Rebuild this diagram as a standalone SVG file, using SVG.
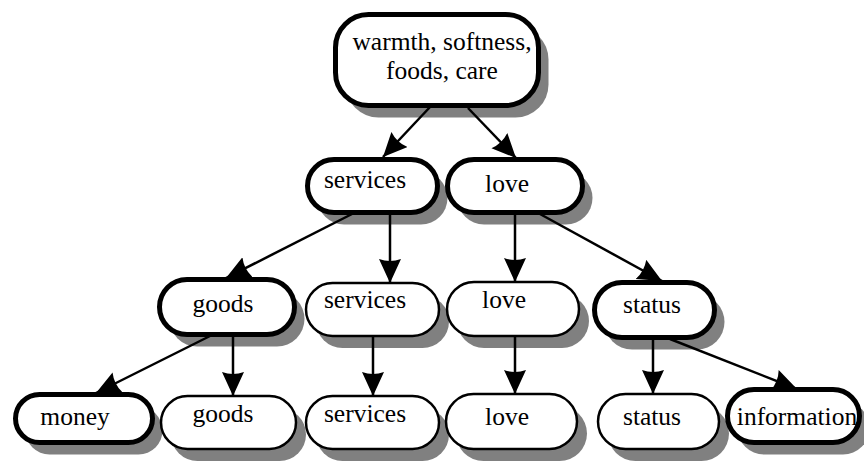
<svg xmlns="http://www.w3.org/2000/svg" width="864" height="463" viewBox="0 0 864 463">
<style>
.sh{fill:#808080;stroke:none}
.thick{fill:#fff;stroke:#000;stroke-width:5}
.thin{fill:#fff;stroke:#000;stroke-width:2.5}
text{font-family:"Liberation Serif","Times New Roman",serif;font-size:25.5px;fill:#000;text-anchor:middle}
.c line{stroke:#000;stroke-width:2.5;marker-end:url(#ah)}
</style>
<defs>
<marker id="ah" markerUnits="userSpaceOnUse" markerWidth="26" markerHeight="24" refX="24" refY="11" orient="auto">
<path d="M0,0 L24,11 L0,22 Q4,11 0,0 Z" fill="#000"/>
</marker>
</defs>
<rect width="864" height="463" fill="#fff"/>
<g id="n-top">
<rect class="sh" x="345.5" y="26.5" width="203" height="91" rx="33"/>
<rect class="thick" x="335.5" y="14.5" width="203" height="91" rx="33"/>
<text x="442" y="50">warmth, softness,</text>
<text x="442" y="79">foods, care</text>
</g>
<g id="n-services1">
<rect class="sh" x="317.5" y="171.5" width="130" height="53" rx="26.5"/>
<rect class="thick" x="307.5" y="159.5" width="130" height="53" rx="26.5"/>
<text x="365" y="188">services</text>
</g>
<g id="n-love1">
<rect class="sh" x="457.5" y="171.5" width="135" height="53" rx="26.5"/>
<rect class="thick" x="447.5" y="159.5" width="135" height="53" rx="26.5"/>
<text x="507" y="192">love</text>
</g>
<g id="n-goods2">
<rect class="sh" x="169.5" y="291.5" width="135" height="55" rx="27.5"/>
<rect class="thick" x="159.5" y="279.5" width="135" height="55" rx="27.5"/>
<text x="223" y="312">goods</text>
</g>
<g id="n-services2">
<rect class="sh" x="316" y="295" width="133" height="53" rx="26.5"/>
<rect class="thin" x="306" y="283" width="133" height="53" rx="26.5"/>
<text x="365" y="308">services</text>
</g>
<g id="n-love2">
<rect class="sh" x="457" y="294" width="132" height="54" rx="27"/>
<rect class="thin" x="447" y="282" width="132" height="54" rx="27"/>
<text x="504" y="308">love</text>
</g>
<g id="n-status2">
<rect class="sh" x="604.5" y="294.5" width="120" height="55" rx="27.5"/>
<rect class="thick" x="594.5" y="282.5" width="120" height="55" rx="27.5"/>
<text x="652" y="313">status</text>
</g>
<g id="n-money">
<rect class="sh" x="25.5" y="406.5" width="137" height="48" rx="24"/>
<rect class="thick" x="15.5" y="394.5" width="137" height="48" rx="24"/>
<text x="75" y="425">money</text>
</g>
<g id="n-goods3">
<rect class="sh" x="171" y="408" width="135" height="53" rx="26.5"/>
<rect class="thin" x="161" y="396" width="135" height="53" rx="26.5"/>
<text x="223" y="422">goods</text>
</g>
<g id="n-services3">
<rect class="sh" x="316" y="408" width="133" height="53" rx="26.5"/>
<rect class="thin" x="306" y="396" width="133" height="53" rx="26.5"/>
<text x="365" y="422">services</text>
</g>
<g id="n-love3">
<rect class="sh" x="456" y="406" width="131" height="55" rx="27.5"/>
<rect class="thin" x="446" y="394" width="131" height="55" rx="27.5"/>
<text x="507" y="425">love</text>
</g>
<g id="n-status3">
<rect class="sh" x="608" y="406" width="121" height="55" rx="27.5"/>
<rect class="thin" x="598" y="394" width="121" height="55" rx="27.5"/>
<text x="652" y="425">status</text>
</g>
<g id="n-information">
<rect class="sh" x="737.5" y="401.5" width="132" height="53" rx="26.5"/>
<rect class="thick" x="727.5" y="389.5" width="132" height="53" rx="26.5"/>
<text x="797" y="425">information</text>
</g>
<g class="c" id="connectors">
<line x1="430" y1="107" x2="383" y2="157"/>
<line x1="468" y1="108" x2="516" y2="158"/>
<line x1="352" y1="214" x2="226" y2="278"/>
<line x1="390" y1="214" x2="390" y2="283"/>
<line x1="515" y1="214" x2="515" y2="282"/>
<line x1="540" y1="214" x2="662" y2="281"/>
<line x1="210" y1="336" x2="96" y2="393"/>
<line x1="233" y1="336" x2="233" y2="396"/>
<line x1="373" y1="336" x2="373" y2="396"/>
<line x1="515" y1="336" x2="515" y2="394"/>
<line x1="653" y1="339" x2="653" y2="394"/>
<line x1="670" y1="339" x2="797" y2="389"/>
</g>
</svg>
